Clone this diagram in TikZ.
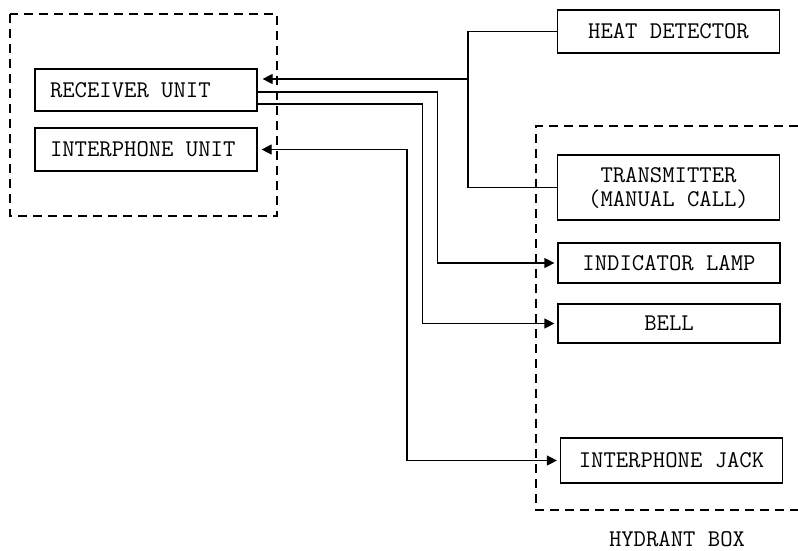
\documentclass[tikz,border=0pt]{standalone}
\usepackage{fontspec}
\usepackage{tikz}
\usetikzlibrary{arrows.meta}

\begin{document}
\begin{tikzpicture}[x=1pt,y=-1pt,
    every node/.style={font=\ttfamily\fontsize{24}{21}\selectfont},
    box/.style={draw,line width=1.2pt,minimum width=222pt,inner sep=0pt},
    leftbox/.style={box,text width=192pt,align=flush left,inner xsep=15pt},
    grp/.style={line width=1.2pt,dash pattern=on 9pt off 6pt},
    wire/.style={line width=1.2pt},
    sigarrow/.style={-{Triangle[length=10pt,width=10pt]},shorten >=3pt},
    twoway/.style={{Triangle[length=10pt,width=10pt]}-{Triangle[length=10pt,width=10pt]},shorten >=3pt,shorten <=4pt}]
    \useasboundingbox (0,0) rectangle (798,551);
    % control room side
    \draw[grp] (10,14) rectangle (277,216);
    \node[leftbox,minimum height=42pt] (recv) at (146,90) {RECEIVER UNIT};
    \node[leftbox,minimum height=43pt] (iphone) at (146,149.5) {INTERPHONE UNIT};
    % field side
    \node[box,minimum height=43pt] (heat) at (668.5,31.5) {HEAT DETECTOR};
    \draw[grp] (798,126) -- (536,126) -- (536,510) -- (798,510);
    \node[box,minimum height=65pt,align=center,font=\ttfamily\fontsize{24}{24}\selectfont] (trans) at (668.5,187.5) {TRANSMITTER\\(MANUAL CALL)};
    \node[box,minimum height=40pt] (lamp) at (669,263) {INDICATOR LAMP};
    \node[box,minimum height=39pt] (bell) at (669,323.5) {BELL};
    \node[box,minimum height=45pt] (jack) at (671.5,460.5) {INTERPHONE JACK};
    \node[inner sep=0pt] (hbox) at (677,539) {HYDRANT BOX};
    % wiring
    \coordinate (jn) at (468,79);
    \draw[wire] (heat.west) -| (jn) |- (trans.west);
    \draw[wire,sigarrow,shorten >=5pt] (jn) -- (recv.east |- jn);
    \draw[wire,sigarrow] ([yshift=-2pt]recv.east) -| ([xshift=-120pt]lamp.west) -- (lamp.west);
    \draw[wire,sigarrow] ([yshift=-14pt]recv.east) -| ([xshift=-135pt]bell.west) -- (bell.west);
    \draw[wire,twoway] (iphone.east) -| ([xshift=-153pt]jack.west) -- (jack.west);
\end{tikzpicture}
\end{document}
